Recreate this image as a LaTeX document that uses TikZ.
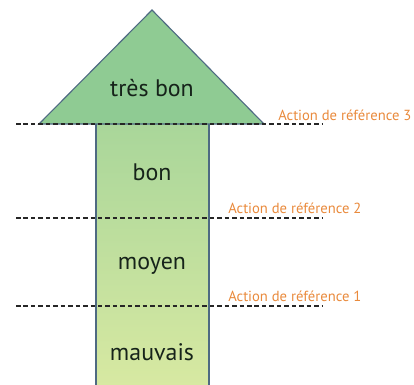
\documentclass[tikz,border=0pt]{standalone}
\usepackage{fontspec}
\setmainfont{PT Sans}
\usepackage{tikz}
\usetikzlibrary{positioning}
\usepackage{xcolor}
\definecolor{tipgreen}{HTML}{8FCB93}
\definecolor{shafttop}{HTML}{A9D69A}
\definecolor{shaftbottom}{HTML}{D8E9A2}
\definecolor{edgeblue}{HTML}{4E6A82}
\definecolor{refOrange}{HTML}{E98A3C}
\definecolor{textdark}{HTML}{16231A}

\begin{document}
\begin{tikzpicture}[
  x=0.025cm, y=-0.025cm,
  level/.style={font=\fontsize{17}{20}\selectfont, text=textdark},
  reflabel/.style={font=\fontsize{10.4}{12}\selectfont, text=refOrange, anchor=west, inner sep=0pt},
  refline/.style={dash pattern=on 3.2pt off 2.1pt, line width=1.7pt, black!85},
  edge/.style={draw=edgeblue, line width=0.8pt}
]
  \useasboundingbox (0,0) rectangle (414,385);

  % Arrow shaft
  \shade[top color=shafttop, bottom color=shaftbottom] (96,124) rectangle (209,390);
  \draw[edge] (96,124) -- (96,390);
  \draw[edge] (209,124) -- (209,390);

  % Arrow head
  \filldraw[fill=tipgreen, edge] (39,124) -- (152,10) -- (264,124) -- cycle;

  % Levels
  \node[level] (tresbon) at (152,88) {très bon};
  \node[level] (bon) at (152,172) {bon};
  \node[level] (moyen) at (152,266) {moyen};
  \node[level] (mauvais) at (152,352) {mauvais};

  % Reference lines
  \coordinate (ref3w) at (16,124);
  \coordinate (ref3e) at (322,124);
  \coordinate (ref2w) at (16,218);
  \coordinate (ref2e) at (322,218);
  \coordinate (ref1w) at (16,306);
  \coordinate (ref1e) at (322,306);
  \draw[refline] (ref3w) -- (ref3e);
  \draw[refline] (ref2w) -- (ref2e);
  \draw[refline] (ref1w) -- (ref1e);

  % Labels
  \node[reflabel] (ref3) at (278,115) {Action de référence 3};
  \node[reflabel] (ref2) at (228,208) {Action de référence 2};
  \node[reflabel] (ref1) at (228,296) {Action de référence 1};
\end{tikzpicture}
\end{document}
